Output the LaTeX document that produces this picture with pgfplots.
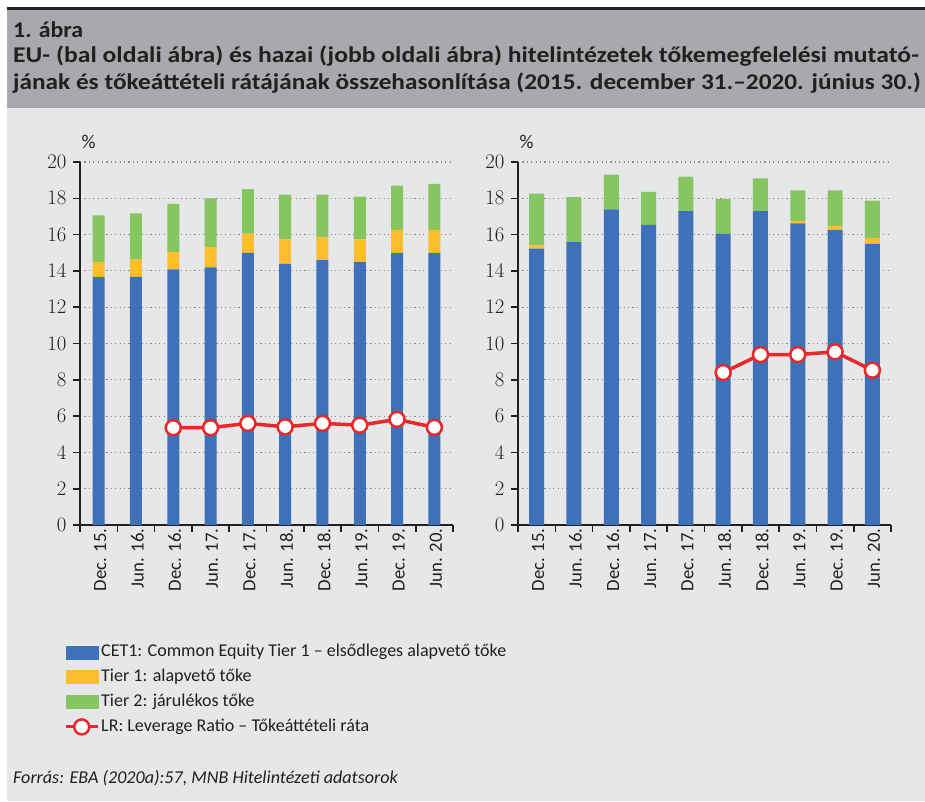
\documentclass[border=0pt]{standalone}
\usepackage{pgfplots}
\pgfplotsset{compat=1.18}
\usepackage{pgfplotstable}
\usepackage{fontspec}
\setmainfont{Carlito}
\definecolor{cblue}{HTML}{3D72B8}
\definecolor{cyellow}{HTML}{FDBE2C}
\definecolor{cgreen}{HTML}{86C55F}
\definecolor{cred}{HTML}{E8282B}
\definecolor{bglight}{HTML}{E6E7E8}
\definecolor{bgtitle}{HTML}{A7A9AC}
\definecolor{axisc}{HTML}{231F20}
\definecolor{gridc}{HTML}{8A8C8E}

\pgfplotstableread{
x cet t1 t2
0 13.67 0.83 2.56
1 13.67 0.95 2.55
2 14.09 0.94 2.66
3 14.20 1.12 2.68
4 15.00 1.06 2.44
5 14.39 1.35 2.46
6 14.60 1.25 2.35
7 14.50 1.24 2.35
8 15.00 1.26 2.44
9 15.00 1.26 2.54
}\leftdata
\pgfplotstableread{
x lr
2 5.36
3 5.36
4 5.60
5 5.41
6 5.60
7 5.50
8 5.82
9 5.38
}\leftlr
\pgfplotstableread{
x cet t1 t2
0 15.23 0.18 2.85
1 15.58 0.00 2.48
2 17.39 0.00 1.91
3 16.53 0.00 1.82
4 17.30 0.00 1.89
5 16.06 0.00 1.90
6 17.30 0.00 1.80
7 16.62 0.13 1.69
8 16.26 0.20 1.98
9 15.49 0.31 2.07
}\rightdata
\pgfplotstableread{
x lr
5 8.40
6 9.39
7 9.39
8 9.54
9 8.53
}\rightlr

\newcommand{\tickfont}{\fontsize{19.5}{23}\selectfont}
\pgfplotsset{
  base/.style={
    scale only axis, width=373pt, height=363pt,
    xmin=-0.5, xmax=9.5, ymin=0, ymax=20,
  },
  bars/.style={
    base,
    ybar stacked,
    axis x line*=bottom, axis y line*=left,
    axis line style={line width=2pt, color=axisc, -},
    tick align=outside,
    major tick length=7pt,
    tick style={line width=1.6pt, color=axisc},
    ytick={0,2,...,20},
    yticklabel style={font=\tickfont, text=axisc, xshift=-3pt},
    xtick={-0.5,0.5,...,9.5},
    xticklabels={},
    extra x ticks={0,1,...,9},
    extra x tick labels={Dec. 15.,Jun. 16.,Dec. 16.,Jun. 17.,Dec. 17.,Jun. 18.,Dec. 18.,Jun. 19.,Dec. 19.,Jun. 20.},
    extra x tick style={major tick length=0pt, xticklabel style={rotate=90, anchor=east, font=\fontsize{18.7}{22}\selectfont, text=axisc, yshift=-1.5pt}},
    ymajorgrids=true,
    y grid style={gridc, line width=1.1pt, dash pattern=on 1.2pt off 3.2pt},
  },
  lrline/.style={base, hide axis},
}

\begin{document}
\begin{tikzpicture}
\fill[white] (0,0) rectangle (925pt,-801pt);
\fill[bglight] (7pt,-108pt) rectangle (925pt,-801pt);
\fill[bgtitle] (7pt,-10pt) rectangle (925pt,-108pt);
\fill[axisc] (7pt,-7pt) rectangle (925pt,-10pt);
\begin{scope}[every node/.style={anchor=base west, text=axisc, inner sep=0pt}]
\node[font=\bfseries\fontsize{22.5}{25}\selectfont] at (13pt,-37.5pt) {\scalebox{1.06}[1]{1. ábra}};
\node[font=\bfseries\fontsize{22.5}{25}\selectfont] at (13pt,-62.7pt) {\scalebox{1.14}[1]{EU- (bal oldali ábra) és hazai (jobb oldali ábra) hitelintézetek tőkemegfelelési mutató-}};
\node[font=\bfseries\fontsize{22.5}{25}\selectfont] at (13pt,-89pt) {\scalebox{1.123}[1]{jának és tőkeáttételi rátájának összehasonlítása (2015. december 31.–2020. június 30.)}};
\node[font=\itshape\fontsize{18.1}{21}\selectfont] at (13pt,-783pt) {Forrás: EBA (2020a):57, MNB Hitelintézeti adatsorok};
\end{scope}
\node[font=\tickfont, text=axisc, anchor=base] at (88.5pt,-148pt) {\%};
\node[font=\tickfont, text=axisc, anchor=base] at (526.5pt,-148pt) {\%};

% left chart
\begin{axis}[bars, at={(80pt,-525pt)}, anchor=south west, bar width=12pt]
\addplot[fill=cblue, draw=none] table[x=x, y=cet] {\leftdata};
\addplot[fill=cyellow, draw=none] table[x=x, y=t1] {\leftdata};
\addplot[fill=cgreen, draw=none] table[x=x, y=t2] {\leftdata};
\end{axis}
\begin{axis}[lrline, at={(80pt,-525pt)}, anchor=south west,
  legend style={at={(axis description cs:-0.0429,-0.3209)}, anchor=north west,
    draw=none, fill=none, inner sep=0pt, row sep=3.9pt, column sep=0pt,
    font=\fontsize{18}{22}\selectfont, text=axisc,
    nodes={inner sep=2pt, text height=13pt, text depth=4pt}},
  legend cell align=left]
\addlegendimage{legend image code/.code={\fill[cblue] (0pt,-6.5pt) rectangle (32pt,6.5pt);}}
\addlegendentry{CET1: Common Equity Tier 1 – elsődleges alapvető tőke}
\addlegendimage{legend image code/.code={\fill[cyellow] (0pt,-6.5pt) rectangle (32pt,6.5pt);}}
\addlegendentry{Tier 1: alapvető tőke}
\addlegendimage{legend image code/.code={\fill[cgreen] (0pt,-6.5pt) rectangle (32pt,6.5pt);}}
\addlegendentry{Tier 2: járulékos tőke}
\addlegendimage{legend image code/.code={\draw[cred, line width=3pt] (0pt,0pt) -- (32pt,0pt); \draw[cred, line width=2.5pt, fill=white] (16pt,0pt) circle (7.5pt);}}
\addlegendentry{LR: Leverage Ratio – Tőkeáttételi ráta}
\addplot[cred, line width=3.5pt, mark=*, mark size=7.5pt, mark options={fill=white, draw=cred, line width=2.5pt}, forget plot] table[x=x, y=lr] {\leftlr};
\end{axis}

% right chart
\begin{axis}[bars, at={(518pt,-525pt)}, anchor=south west, bar width=15pt]
\addplot[fill=cblue, draw=none] table[x=x, y=cet] {\rightdata};
\addplot[fill=cyellow, draw=none] table[x=x, y=t1] {\rightdata};
\addplot[fill=cgreen, draw=none] table[x=x, y=t2] {\rightdata};
\end{axis}
\begin{axis}[lrline, at={(518pt,-525pt)}, anchor=south west]
\addplot[cred, line width=3.5pt, mark=*, mark size=7.5pt, mark options={fill=white, draw=cred, line width=2.5pt}] table[x=x, y=lr] {\rightlr};
\end{axis}
\end{tikzpicture}
\end{document}
